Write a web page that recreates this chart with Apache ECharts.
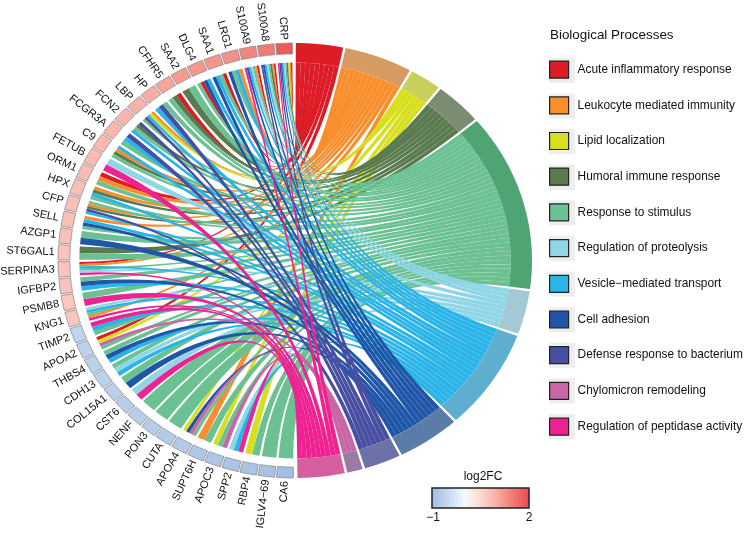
<!DOCTYPE html>
<html><head><meta charset="utf-8">
<style>html,body{margin:0;padding:0;background:#fff}#c{width:744px;height:533px}</style>
<script src="https://cdn.jsdelivr.net/npm/echarts@6/dist/echarts.min.js"></script>
</head><body><div id="c"></div>
<script>
const processes = ['Acute inflammatory response','Leukocyte mediated immunity','Lipid localization','Humoral immune response','Response to stimulus','Regulation of proteolysis','Vesicle\u2212mediated transport','Cell adhesion','Defense response to bacterium','Chylomicron remodeling','Regulation of peptidase activity'];
const processCodes = ['A','L','Li','H','R','P','V','C','D','Y','T'];
const ribbonColors = ['#DC1C26','#F88E2C','#D8DF1E','#5A7A4F','#6CC193','#90D6E6','#2AB4E8','#1F56A8','#484FA2','#C866A6','#EE2391'];
const ringColors = ['#DC1C26','#D69A63','#C9CE5C','#7A8D72','#4FA474','#A2C9D4','#5EAFCF','#5A7CA8','#6C72A8','#9B7AA8','#D45E9E'];
// clockwise from the bottom of the circle
const genes = ['CA6','IGLV4\u221269','RBP4','SPP2','APOC3','SUPT6H','APOA4','CUTA','PON3','NENF','CST6','COL15A1','CDH13','THBS4','APOA2','TIMP2','KNG1','PSMB8','IGFBP2','SERPINA3','ST6GAL1','AZGP1','SELL','CFP','HPX','ORM1','FETUB','C9','FCGR3A','FCN2','LBP','HP','CFHR5','SAA2','DLG4','SAA1','LRG1','S100A9','S100A8','CRP'];
const log2FC = [-0.97,-0.93,-0.9,-0.86,-0.83,-0.8,-0.78,-0.75,-0.73,-0.71,-0.69,-0.67,-0.65,-0.63,-0.6,-0.58,0.72,0.73,0.75,0.76,0.77,0.78,0.8,0.8,0.82,0.83,0.85,0.88,0.9,0.92,0.95,1.0,1.1,1.2,1.22,1.25,1.3,1.4,1.5,1.85];
// processes of each gene, in the order seen clockwise round the gene's end
const geneLinks = [
 'R','R','R Li','T V P','Y R Li','R L','R Y C Li','R','R','R',
 'T P','C R','V P R','V C R','R Y Li A','R V T','T L R V P','T R','V C R','T P R V L A',
 'R H','C R','R C V L','V D H L R','R V H L','R L A','T P','R H L V','R V D','V R H D',
 'R D V Li L','V D R','R H A','H R','R A C V','C V R A','C R V L','T C V P R L A','D C V P R H L A','T D C V P R H Li L A'
];
const legendTicks = ['\u22121','2'];
const legendTitle = 'log2FC';
const legendHeading = 'Biological Processes';
const scaleStops = ['#A3BDE3','#C4D9F0','#F3FAFD','#FCDAD2','#F8AEA6','#F17A75','#E94B4E'];

const R_OUT=1, R_PROC=0.91, R_GENE=0.95, R_LABEL=1.015;
const GENE_START=180.2, GENE_STEP=179.4/genes.length, GENE_PAD=0.3, BOX_PAD=0.22;
const PROC_GAP=0.6;

const lists = geneLinks.map(s=>s.split(' ').map(c=>processCodes.indexOf(c)));
const counts = processes.map((_,p)=>lists.reduce((n,l)=>n+(l.includes(p)?1:0),0));
const total = counts.reduce((a,b)=>a+b,0);
const unit = (180-0.2-PROC_GAP*processes.length)/total;
const procArcs=[]; let th=0.2;
counts.forEach(c=>{procArcs.push([th,th+c*unit]);th+=c*unit+PROC_GAP;});
const ribbons = processes.map(()=>[]);
const geneArc = i=>[GENE_START+i*GENE_STEP, GENE_START+(i+1)*GENE_STEP];
const cursor = procArcs.map(a=>a[0]);
for(let i=genes.length-1;i>=0;i--){
  const g=geneArc(i), s=g[0]+GENE_PAD, w=(g[1]-g[0]-2*GENE_PAD)/lists[i].length;
  lists[i].forEach((p,k)=>{
    ribbons[p].push([cursor[p],cursor[p]+unit,s+k*w,s+(k+1)*w]);
    cursor[p]+=unit;
  });
}
const rad=d=>d*Math.PI/180;
const xy=(r,t)=>[r*Math.sin(rad(t)),r*Math.cos(rad(t))];
function arc(r,t1,t2){const o=[],n=Math.max(2,Math.ceil(Math.abs(t2-t1)/0.5));for(let k=0;k<=n;k++)o.push(xy(r,t1+(t2-t1)*k/n));return o;}
function quad(p,q){const o=[];for(let k=1;k<24;k++){const u=k/24,m=(1-u)*(1-u),e=u*u;o.push([m*p[0]+e*q[0],m*p[1]+e*q[1]]);}return o;}
function band(r1,r2,t1,t2){return arc(r2,t1,t2).concat(arc(r1,t2,t1));}

const ribbonSeries = processes.map((name,p)=>({
  type:'custom',name,coordinateSystem:'cartesian2d',clip:false,silent:true,
  itemStyle:{color:ribbonColors[p]},z:2,
  data:ribbons[p],
  renderItem(params,api){
    const a1=api.value(0),a2=api.value(1),b1=api.value(2),b2=api.value(3);
    const pts=[].concat(arc(R_PROC,a1,a2),quad(xy(R_PROC,a2),xy(R_PROC,b1)),arc(R_PROC,b1,b2),quad(xy(R_PROC,b2),xy(R_PROC,a1)));
    return {type:'polygon',shape:{points:pts.map(q=>api.coord(q))},style:{fill:ribbonColors[p]}};
  }
}));
const ringSeries={
  type:'custom',coordinateSystem:'cartesian2d',clip:false,silent:true,z:3,
  data:procArcs.map((a,p)=>[a[0],a[1],p]),
  renderItem(params,api){
    const pts=band(R_PROC,R_OUT,api.value(0),api.value(1));
    return {type:'polygon',shape:{points:pts.map(q=>api.coord(q))},style:{fill:ringColors[api.value(2)]}};
  }
};
const geneSeries={
  type:'custom',coordinateSystem:'cartesian2d',clip:false,silent:true,z:3,
  data:genes.map((g,i)=>[log2FC[i],i]),
  renderItem(params,api){
    const i=api.value(1),g=geneArc(i),mid=(g[0]+g[1])/2;
    const pts=band(R_GENE,R_OUT,g[0]+BOX_PAD,g[1]-BOX_PAD);
    const lab=api.coord(xy(R_LABEL,mid));
    const delta=mid-180; // angle from the bottom, clockwise
    return {type:'group',children:[
      {type:'polygon',shape:{points:pts.map(q=>api.coord(q))},style:{fill:api.visual('color'),stroke:'#8c8c8c',lineWidth:0.8}},
      {type:'text',x:lab[0],y:lab[1],rotation:rad(90-delta),
       style:{text:genes[i],fill:'#111',font:'11px "Liberation Sans"',textAlign:'right',textVerticalAlign:'middle'}}
    ]};
  }
};
const keyBoxes=processes.map((_,k)=>({type:'rect',z:0,silent:true,
  shape:{x:549,y:58+k*35.6,width:26,height:25},style:{fill:'#EEEEEE'}}));
const option={
  animation:false,backgroundColor:'#fff',
  grid:{left:58,width:474,top:43,height:435},
  xAxis:{type:'value',min:-1,max:1,show:false},
  yAxis:{type:'value',min:-1,max:1,show:false},
  title:{text:legendHeading,left:550,top:29,padding:0,textStyle:{fontFamily:'Liberation Sans',fontSize:13.4,fontWeight:'normal',color:'#111'}},
  legend:{orient:'vertical',left:549,top:60.5,padding:0,itemWidth:19,itemHeight:17,itemGap:17.5,selectedMode:false,z:5,
    data:processes.map((name,p)=>({name,icon:'rect',itemStyle:{color:ribbonColors[p],borderColor:'#222',borderWidth:1.2}})),
    textStyle:{fontFamily:'Liberation Sans',fontSize:11.9,lineHeight:14,height:14,color:'#111',padding:[0,0,0,4]}},
  visualMap:{type:'continuous',min:-1,max:2,dimension:0,seriesIndex:ribbonSeries.length+1,orient:'horizontal',
    left:432,top:488,padding:0,itemWidth:20,itemHeight:97,calculable:false,showLabel:false,text:null,realtime:false,hoverLink:false,
    inRange:{color:scaleStops}},
  graphic:keyBoxes.concat([
    {type:'rect',z:100,silent:true,shape:{x:432,y:488,width:97,height:20},style:{fill:'none',stroke:'#222',lineWidth:1.5}},
    {type:'text',z:100,silent:true,x:483,y:477,style:{text:legendTitle,fill:'#111',font:'12px "Liberation Sans"',textAlign:'center',textVerticalAlign:'middle'}},
    {type:'text',z:100,silent:true,x:433,y:518,style:{text:legendTicks[0],fill:'#111',font:'12px "Liberation Sans"',textAlign:'center',textVerticalAlign:'middle'}},
    {type:'text',z:100,silent:true,x:529,y:518,style:{text:legendTicks[1],fill:'#111',font:'12px "Liberation Sans"',textAlign:'center',textVerticalAlign:'middle'}}
  ]),
  series:ribbonSeries.concat([ringSeries,geneSeries])
};
echarts.init(document.getElementById('c'),null,{renderer:'canvas'}).setOption(option);
</script></body></html>
